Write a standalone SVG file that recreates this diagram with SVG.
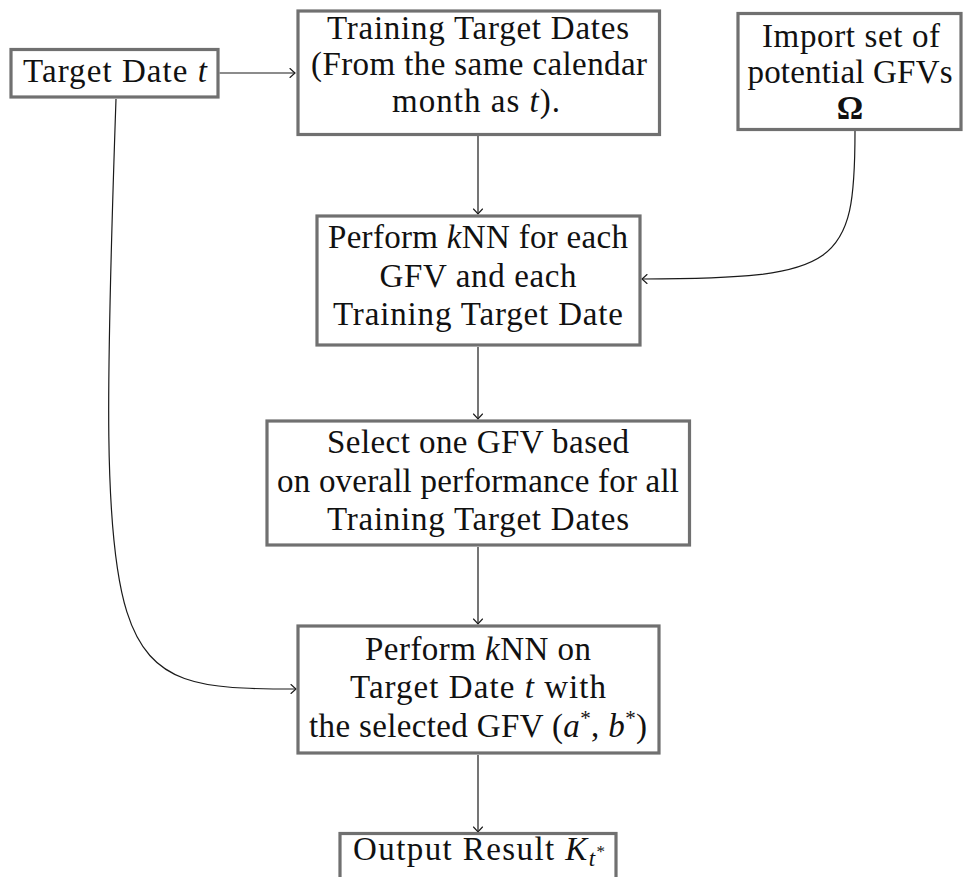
<svg xmlns="http://www.w3.org/2000/svg" width="964" height="877" viewBox="0 0 964 877">
<defs>
<marker id="to" markerUnits="userSpaceOnUse" markerWidth="14" markerHeight="14" viewBox="-8 -7 10 14" refX="0" refY="0" orient="auto">
<path d="M-5,-4.5 Q-1.5,-1.2 0,0 Q-1.5,1.2 -5,4.5" fill="none" stroke="#1a1a1a" stroke-width="1.1" stroke-linecap="round"/>
</marker>
</defs>
<style>
.box{fill:#ffffff;stroke:#707070;stroke-width:3.2}
.t{font-family:"Liberation Serif","Times New Roman",serif;font-size:33px;fill:#111;text-anchor:middle}
.i{font-style:italic}
.c{fill:none;stroke:#1a1a1a;stroke-width:1.2;marker-end:url(#to)}
</style>
<rect width="964" height="877" fill="#ffffff"/>
<g id="connectors">
<path class="c" d="M219.5,73 L295,73"/>
<path class="c" d="M478,136 L478,214"/>
<path class="c" d="M855,131 C855,265 840,279 642,279"/>
<path class="c" d="M478,347 L478,419"/>
<path class="c" d="M478,547 L478,624"/>
<path class="c" d="M116,99 C96,680 105,689 296,689"/>
<path class="c" d="M478,755 L478,832"/>
</g>
<g id="target-date">
<rect class="box" x="11" y="49.5" width="207" height="47.5"/>
<text class="t" x="115" y="82" textLength="184" lengthAdjust="spacing">Target Date <tspan class="i">t</tspan></text>
</g>
<g id="training-dates">
<rect class="box" x="298" y="11" width="361.5" height="123.5"/>
<text class="t" x="478" y="38.5" textLength="302" lengthAdjust="spacing">Training Target Dates</text>
<text class="t" x="479" y="75" textLength="336" lengthAdjust="spacing">(From the same calendar</text>
<text class="t" x="476" y="111.5" textLength="168" lengthAdjust="spacing">month as <tspan class="i">t</tspan>).</text>
</g>
<g id="import-gfvs">
<rect class="box" x="738" y="13.5" width="223" height="116"/>
<text class="t" x="851" y="46.5" textLength="178" lengthAdjust="spacing">Import set of</text>
<text class="t" x="850" y="82.5" textLength="205" lengthAdjust="spacing">potential GFVs</text>
<text class="t" x="850" y="119" font-weight="bold">Ω</text>
</g>
<g id="knn-each">
<rect class="box" x="317" y="216" width="323" height="129"/>
<text class="t" x="478" y="248" textLength="300" lengthAdjust="spacing">Perform <tspan class="i">k</tspan>NN for each</text>
<text class="t" x="478" y="287" textLength="197" lengthAdjust="spacing">GFV and each</text>
<text class="t" x="478" y="325" textLength="290" lengthAdjust="spacing">Training Target Date</text>
</g>
<g id="select-gfv">
<rect class="box" x="267" y="421" width="422.5" height="124"/>
<text class="t" x="478" y="453" textLength="302" lengthAdjust="spacing">Select one GFV based</text>
<text class="t" x="478" y="491.5" textLength="402" lengthAdjust="spacing">on overall performance for all</text>
<text class="t" x="478" y="530" textLength="302" lengthAdjust="spacing">Training Target Dates</text>
</g>
<g id="knn-target">
<rect class="box" x="298" y="626" width="361" height="127"/>
<text class="t" x="478" y="660" textLength="226" lengthAdjust="spacing">Perform <tspan class="i">k</tspan>NN on</text>
<text class="t" x="478" y="698" textLength="256" lengthAdjust="spacing">Target Date <tspan class="i">t</tspan> with</text>
<text class="t" x="478" y="737" textLength="338" lengthAdjust="spacing">the selected GFV (<tspan class="i">a</tspan><tspan font-size="21" dy="-12">*</tspan><tspan dy="12">, </tspan><tspan class="i">b</tspan><tspan font-size="21" dy="-12">*</tspan><tspan dy="12">)</tspan></text>
</g>
<g id="output">
<rect class="box" x="340" y="833.5" width="276" height="50"/>
<text class="t" x="479" y="860" textLength="252" lengthAdjust="spacing">Output Result <tspan class="i">K</tspan><tspan class="i" font-size="23" dy="6">t</tspan><tspan font-size="17" dy="-9">*</tspan></text>
</g>
</svg>
